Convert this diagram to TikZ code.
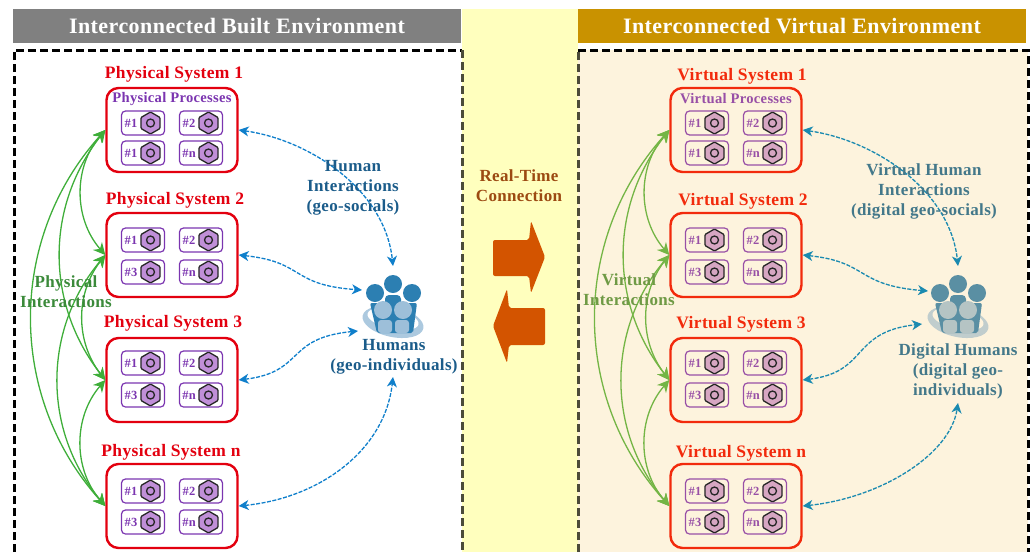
\documentclass[tikz,border=0pt]{standalone}
\usepackage{fontspec}
\setmainfont[LetterSpace=2]{Liberation Serif}
\usetikzlibrary{positioning,calc,arrows.meta,shapes.geometric}
\definecolor{sysL}{HTML}{E3000F}
\definecolor{sysR}{HTML}{F22A0C}
\definecolor{procL}{HTML}{7B35B0}
\definecolor{procR}{HTML}{984FA6}
\definecolor{gearL}{HTML}{C08FD8}
\definecolor{gearR}{HTML}{D6A6C2}
\definecolor{greenL}{HTML}{3FAE3A}
\definecolor{greenR}{HTML}{74B545}
\definecolor{greenT}{HTML}{3B8A3A}
\definecolor{greenU}{HTML}{6F9A45}
\definecolor{blueL}{HTML}{0F7FCB}
\definecolor{blueR}{HTML}{1A8AB0}
\definecolor{blueT}{HTML}{1B5C8A}
\definecolor{blueU}{HTML}{43788A}
\definecolor{darkL}{HTML}{2C7FB2}
\definecolor{darkR}{HTML}{5A8FA3}
\definecolor{paleL}{HTML}{9DBFD9}
\definecolor{paleR}{HTML}{B5C4C4}
\definecolor{bandcol}{HTML}{FFFFBE}
\definecolor{virtcol}{HTML}{FDF3DD}
\definecolor{goldcol}{HTML}{C99200}
\definecolor{arrowcol}{HTML}{D35400}
\definecolor{rtcol}{HTML}{9C4A12}
\tikzset{sysbox/.style={draw=#1,line width=2.4pt,rounded corners=12pt,minimum width=131pt,minimum height=84pt,inner sep=0pt},
	 syshead/.style={text=#1,font=\fontsize{17.5}{20}\selectfont\bfseries,inner sep=0pt},
	 procbox/.style={draw=#1,line width=1.2pt,rounded corners=4pt,minimum width=43pt,minimum height=24pt,inner sep=0pt},
	 gear/.style={regular polygon,regular polygon sides=6,shape border rotate=30,draw=black!85,fill=#1,line width=1.3pt,rounded corners=1pt,minimum size=22pt,inner sep=0pt,
	   path picture={\draw[black!85,line width=1.3pt] (path picture bounding box.center) circle (4pt);}},
	 proctext/.style={text=#1,font=\fontsize{12.5}{14}\selectfont\bfseries,inner sep=0pt},
	 arc/.style={draw=#1,line width=1.3pt,{Stealth[length=12pt,width=12pt]}-{Stealth[length=12pt,width=12pt]}},
	 link/.style={draw=#1,line width=1.3pt,dash pattern=on 4pt off 1.5pt,{Stealth[length=10pt,width=10pt,inset=3pt]}-{Stealth[length=10pt,width=10pt,inset=3pt]}},
	 txt/.style={text=#1,align=center,font=\fontsize{17}{20}\selectfont\bfseries,inner sep=0pt},
	 frame/.style={draw=#1,line width=3pt,dash pattern=on 8pt off 4pt},
	 titlebar/.style={fill=#1,minimum height=34pt,inner sep=0pt,text=white,font=\fontsize{22}{26}\selectfont\bfseries},
	 x=1pt,y=-1pt
	 }
\newcommand{\proccell}[6]{% name, parent, dx, dy, number, side
	\node[procbox=proc#6] (#1) at ($(#2)+(#3,#4)$) {};
	\node[gear=gear#6] (#1g) at ([xshift=7.5pt]#1.center) {};
	\node[proctext=proc#6] (#1t) at ([xshift=-12pt]#1.center) {\##5};
}
\newcommand{\humanicon}[4]{% x shift, dark, pale, back
	\begin{scope}[shift={(#1,0)}]
	\fill[#3!85!white,rotate around={-12:(393,322)}] (393,322) ellipse [x radius=31,y radius=15];
	\fill[#4,rotate around={-12:(393,319)}] (393,319) ellipse [x radius=26,y radius=10];
	\fill[#2] (375,293) circle (9);
	\fill[#2] (393,284) circle (9);
	\fill[#2] (412,293) circle (9);
	\fill[#2,rounded corners=4pt] (385,295) rectangle (401,306);
	\fill[#2,rounded corners=2pt] (370,303) -- (417,303) -- (413,333) -- (377,333) -- cycle;
	\fill[#3] (383,310) circle (9);
	\fill[#3] (403,310) circle (9);
	\fill[#3,rounded corners=3pt] (378,320) rectangle (392,333);
	\fill[#3,rounded corners=3pt] (395,320) rectangle (409,333);
	\end{scope}
}

\begin{document}
\begin{tikzpicture}
	\useasboundingbox (0,0) rectangle (1035,552);
	% backgrounds
	\fill[bandcol] (462,9) rectangle (578,552);
	\fill[virtcol] (578,50) rectangle (1028,552);
	\node[titlebar=black!50,minimum width=448pt] (builttitle) at (237,26) {Interconnected Built Environment};
	\node[titlebar=goldcol,minimum width=448pt] (virttitle) at (802,26) {Interconnected Virtual Environment};
	\draw[frame=black] (14,552) |- (462,50);
	\draw[frame=black!70!bandcol] (462,50) -- (462,552);
	\draw[frame=black!70!bandcol] (578,552) -- (578,50);
	\draw[frame=black] (578,50) -| (1028,552);
	% systems
	\foreach \s/\side/\xc/\yc/\rowa/\rowb/\three/\hx/\hy/\head in {
		pa/L/172/130/-7/23/1/174/74/Physical System 1,
		pb/L/172/255/-15/17/3/175/200/Physical System 2,
		pc/L/172/380/-17/15/3/173/323/Physical System 3,
		pd/L/172/506/-15/16/3/171/452/Physical System n,
		va/R/736/130/-7/23/1/742/76/Virtual System 1,
		vb/R/736/255/-15/17/3/743/201/Virtual System 2,
		vc/R/736/380/-17/15/3/741/324/Virtual System 3,
		vd/R/736/506/-15/16/3/741/453/Virtual System n}{
		\node[sysbox=sys\side] (\s) at (\xc,\yc) {};
		\node[syshead=sys\side] (\s head) at (\hx,\hy) {\head};
		\proccell{\s c1}{\s}{-29}{\rowa}{1}{\side}
		\proccell{\s c2}{\s}{29}{\rowa}{2}{\side}
		\proccell{\s c3}{\s}{-29}{\rowb}{\three}{\side}
		\proccell{\s c4}{\s}{29}{\rowb}{n}{\side}
	}
	\node[proctext=procL,font=\fontsize{14.6}{16}\selectfont\bfseries] (ptitle) at (172,99) {Physical Processes};
	\node[proctext=procR,font=\fontsize{14.6}{16}\selectfont\bfseries] (vtitle) at (736,99) {Virtual Processes};
	% interactions
	\foreach \a/\b/\ang in {pa/pb/41,pb/pc/38,pc/pd/41,pa/pc/38,pb/pd/40,pa/pd/42}
		\draw[arc=greenL] (\a.west) to[bend right=\ang] (\b.west);
	\foreach \a/\b/\ang in {va/vb/41,vb/vc/38,vc/vd/41,va/vc/38,vb/vd/40,va/vd/42}
		\draw[arc=greenR] (\a.west) to[bend right=\ang] (\b.west);
	% humans
	\humanicon{0}{darkL}{paleL}{white}
	\humanicon{565}{darkR}{paleR}{virtcol}
	\coordinate (hleft1) at (393,266);
	\coordinate (hleft2) at (362,290);
	\coordinate (hleft3) at (358,331);
	\coordinate (hleft4) at (393,377);
	\coordinate (hright1) at (958,266);
	\coordinate (hright2) at (928,291);
	\coordinate (hright3) at (922,324);
	\coordinate (hright4) at (958,403);
	\draw[link=blueL] (pa.east) .. controls (310,140) and (385,190) .. (hleft1);
	\draw[link=blueL] (pb.east) .. controls (305,262) and (290,285) .. (hleft2);
	\draw[link=blueL] (pc.east) .. controls (305,372) and (285,338) .. (hleft3);
	\draw[link=blueL] (pd.east) .. controls (320,498) and (385,450) .. (hleft4);
	\draw[link=blueR] (va.east) .. controls (874,140) and (950,190) .. (hright1);
	\draw[link=blueR] (vb.east) .. controls (869,262) and (855,285) .. (hright2);
	\draw[link=blueR] (vc.east) .. controls (869,372) and (850,332) .. (hright3);
	\draw[link=blueR] (vd.east) .. controls (880,498) and (950,455) .. (hright4);
	% arrows in the middle
	\fill[arrowcol,rounded corners=2pt] (493,240) -- (529,240) -- (531,221) -- (545,257) -- (531,293) -- (529,276) -- (493,276) -- cycle;
	\fill[arrowcol,rounded corners=2pt] (545,308) -- (509,308) -- (507,289) -- (493,326) -- (507,363) -- (509,345) -- (545,345) -- cycle;
	% texts
	\node[txt=blueT] (hinter) at (353,188) {Human\\Interactions\\(geo-socials)};
	\node[txt=blueT] (humans) at (394,357) {Humans\\(geo-individuals)};
	\node[txt=rtcol] (realtime) at (519,186) {Real-Time\\Connection};
	\node[txt=greenT] (pinter) at (66,292) {Physical\\Interactions};
	\node[txt=greenU] (vinter) at (629,290) {Virtual\\Interactions};
	\node[txt=blueU] (vhinter) at (924,191) {Virtual Human\\Interactions\\(digital geo-socials)};
	\node[txt=blueU] (dhumans) at (958,371) {Digital Humans\\(digital geo-\\individuals)};
\end{tikzpicture}
\end{document}
